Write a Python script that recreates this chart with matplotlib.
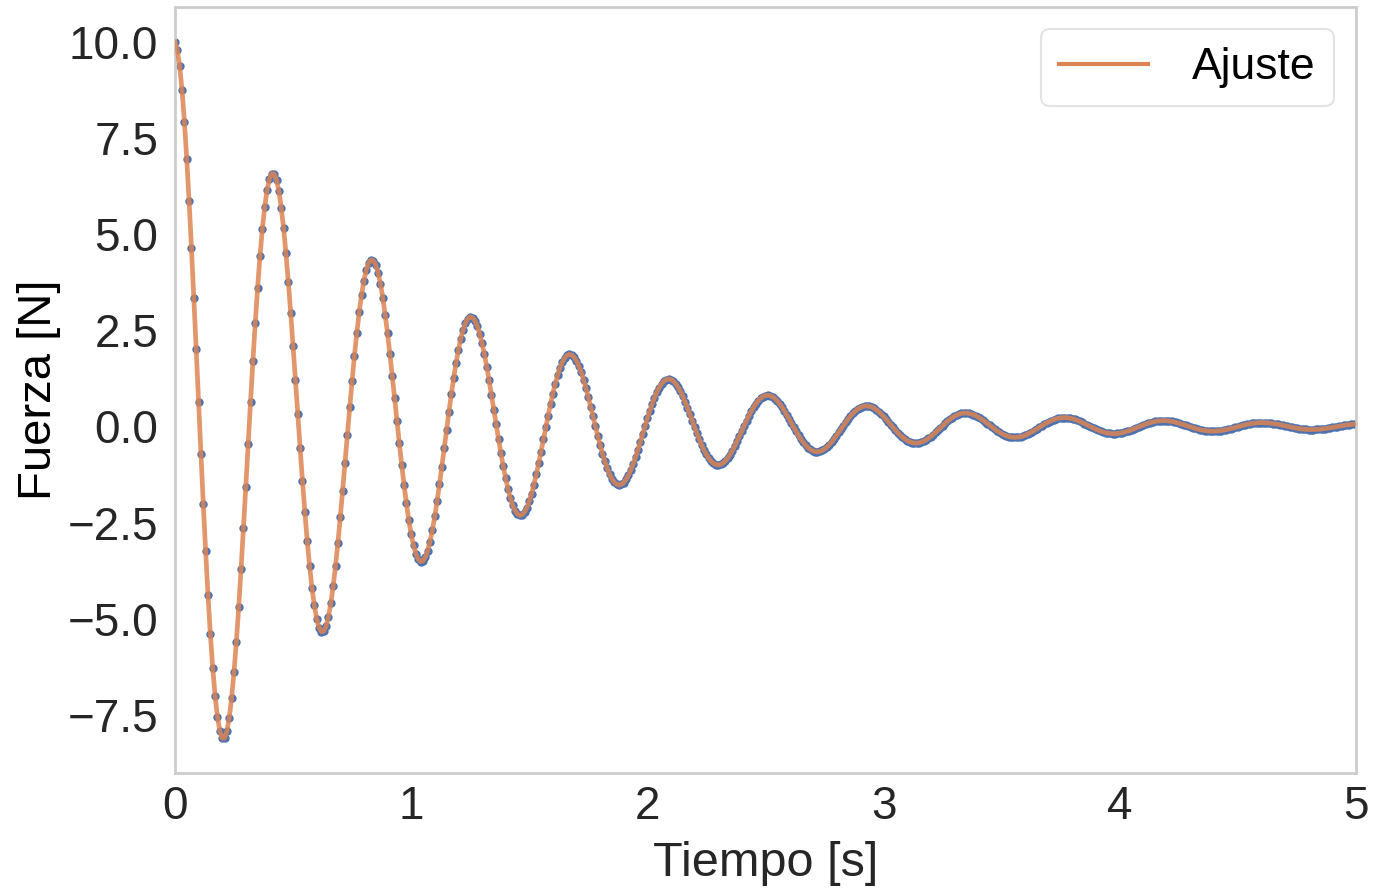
import matplotlib.pyplot as plt
import numpy as np

# Fit parameters: F(t) = A * exp(-gamma t) * cos(omega t)
amplitude = 10.0  # N
gamma = 1.0  # 1/s
omega = 15.0  # rad/s
t_start, t_end, dt = 0.0, 5.0, 0.01  # s, sampling of the measured points

x_label = "Tiempo [s]"
y_label = "Fuerza [N]"
legend_label = "Ajuste"
x_ticks = [0, 1, 2, 3, 4, 5]
y_ticks = [-7.5, -5.0, -2.5, 0.0, 2.5, 5.0, 7.5, 10.0]


def fuerza(t):
    return amplitude * np.exp(-gamma * t) * np.cos(omega * t)


def main():
    plt.rcParams["font.family"] = ["Liberation Sans", "DejaVu Sans"]

    t = np.arange(t_start, t_end + dt / 2, dt)
    f = fuerza(t)

    fig = plt.figure(figsize=(13.94, 8.9), dpi=100)
    ax = fig.add_axes([0.1255, 0.1315, 0.8472, 0.8605])

    ax.plot(t, f, "o", color="#4c72b0", markersize=5, zorder=2)
    ax.plot(t, f, color="#dd8452", linewidth=3.4, alpha=0.85, label=legend_label, zorder=3)

    ax.set_xlim(0, 5)
    ax.set_xticks(x_ticks)
    ax.set_yticks(y_ticks)
    ax.set_yticklabels(["\u22127.5", "\u22125.0", "\u22122.5", "0.0", "2.5", "5.0", "7.5", "10.0"])

    for s in ax.spines.values():
        s.set_color("#cccccc")
        s.set_linewidth(2)
    ax.tick_params(length=0, labelsize=33, labelcolor="#262626", pad=9)
    ax.tick_params(axis="y", pad=12)
    ax.set_xlabel(x_label, fontsize=35, color="#262626", labelpad=8)
    ax.set_ylabel(y_label, fontsize=34, color="black", labelpad=5)

    leg = ax.legend(loc="upper right", fontsize=32, frameon=True, fancybox=True,
                    borderpad=0.4, handlelength=2.0, handletextpad=1.0)
    leg.get_frame().set_edgecolor("#dddddd")
    leg.get_frame().set_linewidth(1.5)
    for line in leg.get_lines():
        line.set_linewidth(3)
        line.set_alpha(1)

    fig.savefig("out.png", dpi=100)


if __name__ == "__main__":
    main()
